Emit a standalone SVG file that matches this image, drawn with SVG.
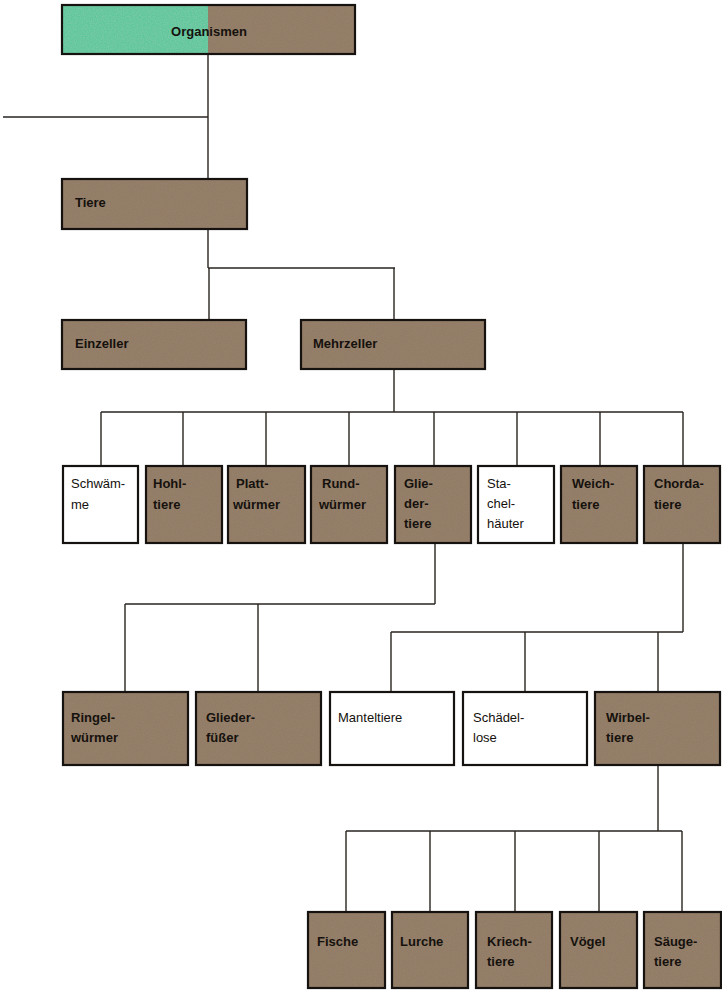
<svg xmlns="http://www.w3.org/2000/svg" width="722" height="992" viewBox="0 0 722 992">
<defs>
<filter id="grain" x="0" y="0" width="100%" height="100%">
<feTurbulence type="fractalNoise" baseFrequency="0.85" numOctaves="2" seed="3" result="n"/>
<feColorMatrix in="n" type="matrix" values="0 0 0 0 0.30  0 0 0 0 0.24  0 0 0 0 0.18  0 0 0 1.1 -0.35" result="c"/>
<feComposite in="c" in2="SourceGraphic" operator="in" result="t"/>
<feMerge><feMergeNode in="SourceGraphic"/><feMergeNode in="t"/></feMerge>
</filter>
<filter id="grainG" x="0" y="0" width="100%" height="100%">
<feTurbulence type="fractalNoise" baseFrequency="0.85" numOctaves="2" seed="7" result="n"/>
<feColorMatrix in="n" type="matrix" values="0 0 0 0 0.30  0 0 0 0 0.62  0 0 0 0 0.47  0 0 0 0.9 -0.3" result="c"/>
<feComposite in="c" in2="SourceGraphic" operator="in" result="t"/>
<feMerge><feMergeNode in="SourceGraphic"/><feMergeNode in="t"/></feMerge>
</filter>
</defs>
<style>
.f{fill:#937c65;filter:url(#grain)}
.g{fill:#60c79c;filter:url(#grainG)}
.o{fill:none;stroke:#15120f;stroke-width:2.2}
.w{fill:#ffffff;stroke:#15120f;stroke-width:2.2}
.t{font-family:"Liberation Sans",Arial,sans-serif;font-size:13px;font-weight:bold;fill:#15110d}
.tw{font-family:"Liberation Sans",Arial,sans-serif;font-size:13px;fill:#15110d}
.l{fill:none;stroke:#2a2520;stroke-width:1.4}
</style>
<rect width="722" height="992" fill="#ffffff"/>
<g id="connectors">
<path class="l" d="M208 54V179M3 117H208"/>
<path class="l" d="M208 229V268M208 268H395M209 268V320M394 268V320"/>
<path class="l" d="M394 369V412M101 412H683M101 412V467M183 412V467M266 412V467M349 412V467M434 412V467M517 412V467M600 412V467M683 412V467"/>
<path class="l" d="M435 543V604M125 604H435M125 604V692M258 604V692"/>
<path class="l" d="M683 543V632M391 632H683M391 632V692M525 632V692M658 632V692"/>
<path class="l" d="M658 765V831M346 831H682M346 831V912M430 831V912M515 831V912M599 831V912M682 831V912"/>
</g>
<g id="n-organismen">
<rect class="g" x="62" y="5" width="146" height="49"/>
<rect class="f" x="208" y="5" width="147" height="49"/>
<rect class="o" x="62" y="5" width="293" height="49"/>
<text class="t" x="209" y="36" text-anchor="middle" font-size="14">Organismen</text>
</g>
<g id="n-tiere"><rect class="f" x="62" y="179" width="185" height="50"/><rect class="o" x="62" y="179" width="185" height="50"/><text class="t" x="75" y="207">Tiere</text></g>
<g id="n-einzeller"><rect class="f" x="62" y="320" width="184" height="49"/><rect class="o" x="62" y="320" width="184" height="49"/><text class="t" x="75" y="348">Einzeller</text></g>
<g id="n-mehrzeller"><rect class="f" x="301" y="320" width="184" height="49"/><rect class="o" x="301" y="320" width="184" height="49"/><text class="t" x="313" y="348">Mehrzeller</text></g>
<g id="n-schwaemme"><rect class="w" x="63" y="466" width="75" height="77"/><text class="tw" x="71" y="488">Schwäm-</text><text class="tw" x="71" y="509">me</text></g>
<g id="n-hohltiere"><rect class="f" x="146" y="466" width="76" height="77"/><rect class="o" x="146" y="466" width="76" height="77"/><text class="t" x="153" y="488">Hohl-</text><text class="t" x="153" y="509">tiere</text></g>
<g id="n-plattwuermer"><rect class="f" x="228" y="466" width="77" height="77"/><rect class="o" x="228" y="466" width="77" height="77"/><text class="t" x="236" y="488">Platt-</text><text class="t" x="233" y="509">würmer</text></g>
<g id="n-rundwuermer"><rect class="f" x="311" y="466" width="76" height="77"/><rect class="o" x="311" y="466" width="76" height="77"/><text class="t" x="322" y="488">Rund-</text><text class="t" x="319" y="509">würmer</text></g>
<g id="n-gliedertiere"><rect class="f" x="395" y="466" width="76" height="77"/><rect class="o" x="395" y="466" width="76" height="77"/><text class="t" x="404" y="488">Glie-</text><text class="t" x="404" y="508">der-</text><text class="t" x="404" y="528">tiere</text></g>
<g id="n-stachelhaeuter"><rect class="w" x="478" y="466" width="76" height="77"/><text class="tw" x="487" y="488">Sta-</text><text class="tw" x="487" y="508">chel-</text><text class="tw" x="487" y="528">häuter</text></g>
<g id="n-weichtiere"><rect class="f" x="561" y="466" width="76" height="77"/><rect class="o" x="561" y="466" width="76" height="77"/><text class="t" x="572" y="488">Weich-</text><text class="t" x="572" y="509">tiere</text></g>
<g id="n-chordatiere"><rect class="f" x="644" y="466" width="76" height="77"/><rect class="o" x="644" y="466" width="76" height="77"/><text class="t" x="654" y="488">Chorda-</text><text class="t" x="654" y="509">tiere</text></g>
<g id="n-ringelwuermer"><rect class="f" x="63" y="692" width="125" height="73"/><rect class="o" x="63" y="692" width="125" height="73"/><text class="t" x="71" y="722">Ringel-</text><text class="t" x="71" y="742">würmer</text></g>
<g id="n-gliederfuesser"><rect class="f" x="196" y="692" width="125" height="73"/><rect class="o" x="196" y="692" width="125" height="73"/><text class="t" x="206" y="722">Glieder-</text><text class="t" x="206" y="742">füßer</text></g>
<g id="n-manteltiere"><rect class="w" x="330" y="692" width="124" height="73"/><text class="tw" x="338" y="722">Manteltiere</text></g>
<g id="n-schaedellose"><rect class="w" x="463" y="692" width="124" height="73"/><text class="tw" x="473" y="722">Schädel-</text><text class="tw" x="473" y="742">lose</text></g>
<g id="n-wirbeltiere"><rect class="f" x="595" y="692" width="125" height="73"/><rect class="o" x="595" y="692" width="125" height="73"/><text class="t" x="606" y="722">Wirbel-</text><text class="t" x="606" y="742">tiere</text></g>
<g id="n-fische"><rect class="f" x="308" y="912" width="77" height="76"/><rect class="o" x="308" y="912" width="77" height="76"/><text class="t" x="317" y="946">Fische</text></g>
<g id="n-lurche"><rect class="f" x="392" y="912" width="76" height="76"/><rect class="o" x="392" y="912" width="76" height="76"/><text class="t" x="400" y="946">Lurche</text></g>
<g id="n-kriechtiere"><rect class="f" x="476" y="912" width="76" height="76"/><rect class="o" x="476" y="912" width="76" height="76"/><text class="t" x="487" y="946">Kriech-</text><text class="t" x="487" y="966">tiere</text></g>
<g id="n-voegel"><rect class="f" x="560" y="912" width="77" height="76"/><rect class="o" x="560" y="912" width="77" height="76"/><text class="t" x="570" y="946">Vögel</text></g>
<g id="n-saeugetiere"><rect class="f" x="644" y="912" width="77" height="76"/><rect class="o" x="644" y="912" width="77" height="76"/><text class="t" x="654" y="946">Säuge-</text><text class="t" x="654" y="966">tiere</text></g>
</svg>
